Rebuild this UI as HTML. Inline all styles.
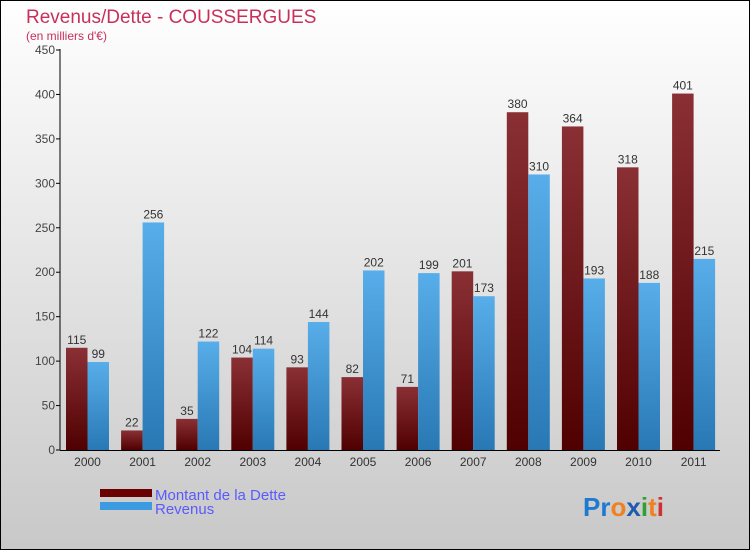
<!DOCTYPE html>
<html><head><meta charset="utf-8"><style>
body{margin:0}
#c{width:750px;height:550px;position:relative;overflow:hidden}
text{font-family:"Liberation Sans",sans-serif}
</style></head><body>
<div id="c">
<svg width="750" height="550" id="svg">
<defs>
<linearGradient id="bg" x1="0" y1="0" x2="0" y2="1"><stop offset="0" stop-color="#ffffff"/><stop offset="1" stop-color="#c8c8c8"/></linearGradient>
<linearGradient id="gd" x1="0" y1="0" x2="0" y2="1"><stop offset="0" stop-color="#8a3035"/><stop offset="1" stop-color="#500000"/></linearGradient>
<linearGradient id="gr" x1="0" y1="0" x2="0" y2="1"><stop offset="0" stop-color="#58aeea"/><stop offset="1" stop-color="#2878b4"/></linearGradient>
</defs>
<rect x="0.5" y="0.5" width="749" height="549" fill="url(#bg)" stroke="#000"/>
<text x="26" y="23" font-size="19" fill="#c8305a">Revenus/Dette - COUSSERGUES</text>
<text x="26" y="40" font-size="12" fill="#c8305a">(en milliers d'€)</text>
<g id="plot"></g>
<rect x="100" y="489" width="52" height="8" fill="#6a0000"/>
<text x="155" y="500" font-size="15" fill="#5a5aff">Montant de la Dette</text>
<rect x="100" y="502" width="52" height="8" fill="#3c9be0"/>
<text x="155" y="514" font-size="15" fill="#5a5aff">Revenus</text>
<text x="583" y="516" font-size="26" font-weight="bold"><tspan fill="#1e7ad0">Pr</tspan><tspan fill="#f08020">o</tspan><tspan fill="#1e5ab0">x</tspan><tspan fill="#30a030">i</tspan><tspan fill="#f08020">t</tspan><tspan fill="#d03030">i</tspan></text>
</svg>
</div>
<script>
const years=["2000","2001","2002","2003","2004","2005","2006","2007","2008","2009","2010","2011"];
const dette=[115,22,35,104,93,82,71,201,380,364,318,401];
const revenus=[99,256,122,114,144,202,199,173,310,193,188,215];
const ticks=[0,50,100,150,200,250,300,350,400,450];
const NS="http://www.w3.org/2000/svg";
const g=document.getElementById('plot');
const y=v=>450-v*400/450;
const x0=i=>66+i*55.1;
function mk(t,a){const e=document.createElementNS(NS,t);for(const k in a)e.setAttribute(k,a[k]);g.appendChild(e);return e;}
ticks.forEach(t=>{
 const l=mk('line',{x1:56,x2:60,y1:y(t),y2:y(t),stroke:'#000'});
 
 
 const tx=mk('text',{x:55,y:y(t)+4,'font-size':12,fill:'#444','text-anchor':'end'});
 tx.textContent=t;
 
 
});
years.forEach((yr,i)=>{
 const b1=mk('rect',{x:x0(i),y:y(dette[i]),width:21.5,height:450-y(dette[i]),fill:'url(#gd)'});
 
 
 const b2=mk('rect',{x:x0(i)+21.5,y:y(revenus[i]),width:21.5,height:450-y(revenus[i]),fill:'url(#gr)'});
 
 
 const l1=mk('text',{x:x0(i)+10.75,y:y(dette[i])-4,'font-size':12,fill:'#333','text-anchor':'middle'});
 l1.textContent=dette[i];
 
 
 const l2=mk('text',{x:x0(i)+32.25,y:y(revenus[i])-4,'font-size':12,fill:'#333','text-anchor':'middle'});
 l2.textContent=revenus[i];
 
 
 const xt=mk('text',{x:x0(i)+21.5,y:466,'font-size':12,fill:'#333','text-anchor':'middle'});
 xt.textContent=yr;
 
 
});
const ya=mk('line',{x1:60,x2:60,y1:49,y2:450,stroke:'#000'});


const xa=mk('line',{x1:60,x2:720,y1:450.5,y2:450.5,stroke:'#000'});


</script>
</body></html>
